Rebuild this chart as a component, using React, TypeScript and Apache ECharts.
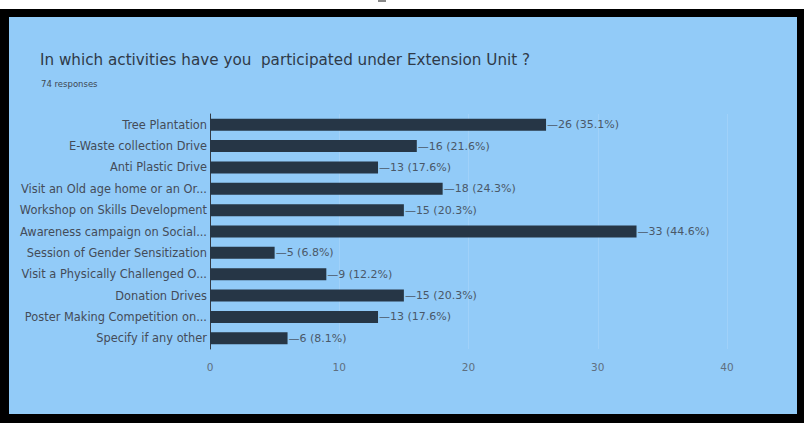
import React, { useEffect, useRef } from "react";
import * as echarts from "echarts";

const titleText = "In which activities have you  participated under Extension Unit ?";
const subtitleText = "74 responses";
const categories = [
  "Tree Plantation",
  "E-Waste collection Drive",
  "Anti Plastic Drive",
  "Visit an Old age home or an Or...",
  "Workshop on Skills Development",
  "Awareness campaign on Social...",
  "Session of Gender Sensitization",
  "Visit a Physically Challenged O...",
  "Donation Drives",
  "Poster Making Competition on...",
  "Specify if any other",
];
const counts = [26, 16, 13, 18, 15, 33, 5, 9, 15, 13, 6];
const percents = ["35.1", "21.6", "17.6", "24.3", "20.3", "44.6", "6.8", "12.2", "20.3", "17.6", "8.1"];

const FONT = "DejaVu Sans";

export default function App() {
  const ref = useRef<HTMLDivElement>(null);
  useEffect(() => {
    if (!ref.current) return;
    const chart = echarts.init(ref.current, undefined, { renderer: "svg" });
    chart.setOption({
      animation: false,
      backgroundColor: "transparent",
      title: [
        {
          text: titleText,
          left: 35,
          top: 47,
          textStyle: { fontFamily: FONT, fontSize: 15.2, fontWeight: "normal", color: "#2f3a48" },
        },
        {
          text: subtitleText,
          left: 36,
          top: 74,
          textStyle: { fontFamily: FONT, fontSize: 8.5, fontWeight: "normal", color: "#3f4852" },
        },
      ],
      grid: { left: 210, right: 77, top: 114, bottom: 74, containLabel: false },
      xAxis: {
        type: "value",
        min: 0,
        max: 40,
        interval: 10,
        axisLine: { show: false },
        axisTick: { show: false },
        splitLine: { show: true, lineStyle: { color: "rgba(255,255,255,0.13)", width: 1 } },
        axisLabel: { fontFamily: FONT, fontSize: 10.5, color: "#5f6f80", margin: 12 },
      },
      yAxis: {
        type: "category",
        data: categories,
        inverse: true,
        axisLine: { show: true, lineStyle: { color: "#333a44", width: 1 } },
        axisTick: { show: false },
        axisLabel: { fontFamily: FONT, fontSize: 11.4, color: "#444c58", margin: 3 },
      },
      series: [
        {
          type: "bar",
          data: counts,
          barWidth: 12,
          itemStyle: { color: "#263646" },
          label: {
            show: true,
            position: "right",
            distance: 1,
            fontFamily: FONT,
            fontSize: 11,
            color: "#4a5868",
            formatter: (p: any) => `—${p.value} (${percents[p.dataIndex]}%)`,
          },
        },
      ],
    });
    return () => chart.dispose();
  }, []);
  return (
    <div style={{ position: "fixed", left: 0, top: 0, width: 804, height: 423, background: "#fff" }}>
      <div style={{ position: "absolute", left: 378, top: 0, width: 8, height: 2, background: "#888" }} />
      <div style={{ position: "absolute", left: 0, top: 9, width: 804, height: 414, background: "#000" }} />
      <div style={{ position: "absolute", left: 9, top: 17, width: 788, height: 397, background: "#92CBF8" }} />
      <div ref={ref} style={{ position: "absolute", left: 0, top: 0, width: 804, height: 423 }} />
    </div>
  );
}
